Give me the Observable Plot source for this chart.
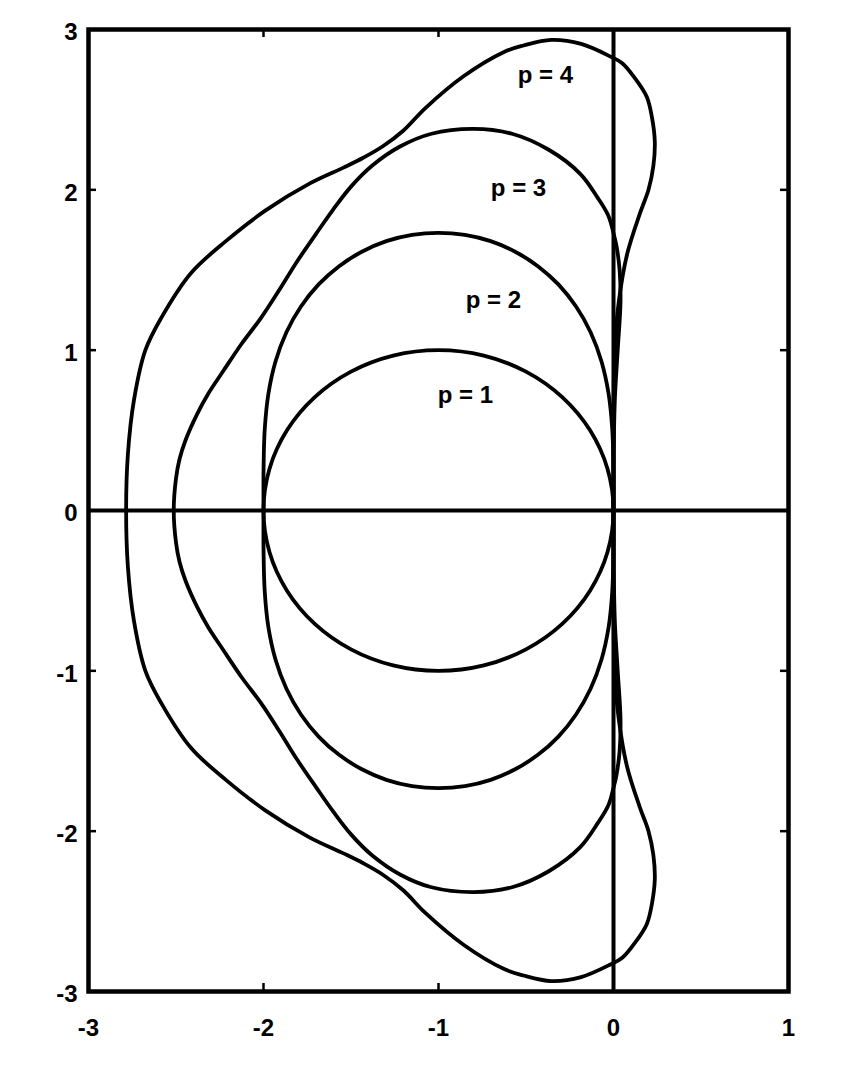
<!DOCTYPE html>
<html>
<head>
<meta charset="utf-8">
<script src="https://cdn.jsdelivr.net/npm/d3@7"></script>
<script src="https://cdn.jsdelivr.net/npm/@observablehq/plot@0.6"></script>
<style>
  html, body { margin: 0; padding: 0; background: #fff; }
  #chart svg { display: block; }
</style>
</head>
<body>
<div id="chart"></div>
<script>
// ---- tick values and labels ----
const xTicks = [-3, -2, -1, 0, 1];
const xTickLabels = ["-3", "-2", "-1", "0", "1"];
const yTicks = [-3, -2, -1, 0, 1, 2, 3];
const yTickLabels = ["-3", "-2", "-1", "0", "1", "2", "3"];

// ---- curve labels ----
const labelText = ["p = 1", "p = 2", "p = 3", "p = 4"];
const labelX = [-0.846, -0.686, -0.543, -0.389];
const labelY = [0.717, 1.31, 2.009, 2.714];

// ---- p = 1 boundary ----
const p1x = [0, -0.034, -0.134, -0.293, -0.5, -0.741, -1, -1.259, -1.5, -1.707, -1.866, -1.966,
  -2, -1.966, -1.866, -1.707, -1.5, -1.259, -1, -0.741, -0.5, -0.293, -0.134, -0.034];
const p1y = [0, 0.259, 0.5, 0.707, 0.866, 0.966, 1, 0.966, 0.866, 0.707, 0.5, 0.259,
  0, -0.259, -0.5, -0.707, -0.866, -0.966, -1, -0.966, -0.866, -0.707, -0.5, -0.259];

// ---- p = 2 boundary ----
const p2x = [0, -0.0004, -0.007, -0.028, -0.069, -0.131, -0.214, -0.315, -0.432, -0.562, -0.702, -0.849,
  -1, -1.151, -1.298, -1.438, -1.568, -1.685, -1.786, -1.869, -1.931, -1.972, -1.993, -1.9996, -2,
  -1.9996, -1.993, -1.972, -1.931, -1.869, -1.786, -1.685, -1.568, -1.438, -1.298, -1.151, -1,
  -0.849, -0.702, -0.562, -0.432, -0.315, -0.214, -0.131, -0.069, -0.028, -0.007, -0.0004];
const p2y = [0, 0.259, 0.504, 0.728, 0.931, 1.112, 1.272, 1.41, 1.524, 1.614, 1.68, 1.719,
  1.732, 1.719, 1.68, 1.614, 1.524, 1.41, 1.272, 1.112, 0.931, 0.728, 0.504, 0.259, 0,
  -0.259, -0.504, -0.728, -0.931, -1.112, -1.272, -1.41, -1.524, -1.614, -1.68, -1.719, -1.732,
  -1.719, -1.68, -1.614, -1.524, -1.41, -1.272, -1.112, -0.931, -0.728, -0.504, -0.259];

// ---- p = 3 boundary ----
const p3x = [0, 0.001, 0.008, 0.024, 0.04, 0.035, 0.017, 0, -0.03, -0.09, -0.19, -0.37, -0.58, -0.8,
  -1.04, -1.22, -1.38, -1.5, -1.6, -1.697, -1.81, -1.91, -2.015, -2.125, -2.23, -2.315, -2.38, -2.445, -2.48, -2.5, -2.513,
  -2.5, -2.48, -2.445, -2.38, -2.315, -2.23, -2.125, -2.015, -1.91, -1.81, -1.697, -1.6, -1.5, -1.38, -1.22,
  -1.04, -0.8, -0.58, -0.37, -0.19, -0.09, -0.03, 0, 0.017, 0.035, 0.04, 0.024, 0.008, 0.001];
const p3y = [0, 0.35, 0.7, 1.0, 1.3, 1.5, 1.65, 1.73, 1.84, 1.95, 2.1, 2.25, 2.35, 2.38,
  2.35, 2.27, 2.15, 2.02, 1.88, 1.73, 1.55, 1.375, 1.2, 1.04, 0.87, 0.73, 0.6, 0.44, 0.32, 0.2, 0,
  -0.2, -0.32, -0.44, -0.6, -0.73, -0.87, -1.04, -1.2, -1.375, -1.55, -1.73, -1.88, -2.02, -2.15, -2.27,
  -2.35, -2.38, -2.35, -2.25, -2.1, -1.95, -1.84, -1.73, -1.65, -1.5, -1.3, -1.0, -0.7, -0.35];

// ---- p = 4 boundary ----
const p4x = [0, 0.001, 0.006, 0.03, 0.078, 0.15, 0.2, 0.228, 0.236, 0.22, 0.19, 0.12, 0.05, -0.015,
  -0.185, -0.355, -0.515, -0.625, -0.855, -1.075, -1.2, -1.32, -1.43, -1.54, -1.735, -1.99, -2.215,
  -2.415, -2.585, -2.675, -2.74, -2.775, -2.785,
  -2.775, -2.74, -2.675, -2.585, -2.415, -2.215, -1.99, -1.735, -1.54, -1.43, -1.32, -1.2, -1.075,
  -0.855, -0.625, -0.515, -0.355, -0.185, -0.015, 0.05, 0.12, 0.19, 0.22, 0.236, 0.228, 0.2, 0.15,
  0.078, 0.03, 0.006, 0.001];
const p4y = [0, 0.5, 1.0, 1.3, 1.6, 1.85, 2.0, 2.15, 2.3, 2.45, 2.58, 2.7, 2.79, 2.83,
  2.91, 2.935, 2.9, 2.86, 2.71, 2.51, 2.37, 2.27, 2.2, 2.14, 2.04, 1.87, 1.68,
  1.48, 1.2, 1.0, 0.69, 0.35, 0,
  -0.35, -0.69, -1.0, -1.2, -1.48, -1.68, -1.87, -2.04, -2.14, -2.2, -2.27, -2.37, -2.51,
  -2.71, -2.86, -2.9, -2.935, -2.91, -2.83, -2.79, -2.7, -2.58, -2.45, -2.3, -2.15, -2.0, -1.85,
  -1.6, -1.3, -1.0, -0.5];

const toRows = (xs, ys) => xs.map((x, i) => ({x, y: ys[i]}));
const curves = [toRows(p1x, p1y), toRows(p2x, p2y), toRows(p3x, p3y), toRows(p4x, p4y)];
const labels = labelText.map((t, i) => ({t, x: labelX[i], y: labelY[i]}));

const W = 856, H = 1072;
const mL = 88, mR = 68, mT = 29, mB = 81;
const plotW = W - mL - mR, plotH = H - mT - mB;
const tickLen = 8;
const FONT = "'Liberation Sans', Arial, Helvetica, sans-serif";

const chart = Plot.plot({
  width: W,
  height: H,
  marginLeft: mL,
  marginRight: mR,
  marginTop: mT,
  marginBottom: mB,
  style: {fontFamily: FONT, background: "#fff", color: "#000"},
  x: {domain: [-3, 1], axis: null},
  y: {domain: [-3, 3], axis: null},
  marks: [
    // inward ticks on all four sides
    Plot.ruleX(xTicks, {x: d => d, insetTop: plotH - tickLen, stroke: "#000", strokeWidth: 2.5}),
    Plot.ruleX(xTicks, {x: d => d, insetBottom: plotH - tickLen, stroke: "#000", strokeWidth: 2.5}),
    Plot.ruleY(yTicks, {y: d => d, insetRight: plotW - tickLen, stroke: "#000", strokeWidth: 2.5}),
    Plot.ruleY(yTicks, {y: d => d, insetLeft: plotW - tickLen, stroke: "#000", strokeWidth: 2.5}),
    // tick labels
    Plot.text(xTicks, {x: d => d, text: (d, i) => xTickLabels[i], frameAnchor: "bottom", dy: 37,
      lineAnchor: "middle", textAnchor: "middle", fontSize: 24, fontWeight: "bold", fill: "#000"}),
    Plot.text(yTicks, {y: d => d, text: (d, i) => yTickLabels[i], frameAnchor: "left", dx: -11, dy: 3,
      lineAnchor: "middle", textAnchor: "end", fontSize: 24, fontWeight: "bold", fill: "#000"}),
    // zero axes
    Plot.ruleY([0], {stroke: "#000", strokeWidth: 4}),
    Plot.ruleX([0], {stroke: "#000", strokeWidth: 4}),
    // stability boundaries
    ...curves.map(rows => Plot.line(rows, {x: "x", y: "y", curve: "catmull-rom-closed", stroke: "#000", strokeWidth: 3.8, strokeLinejoin: "round"})),
    // curve labels
    Plot.text(labels, {x: "x", y: "y", text: "t", fontSize: 24, fontWeight: "bold", fill: "#000", textAnchor: "middle", lineAnchor: "middle"}),
    Plot.frame({stroke: "#000", strokeWidth: 4.5})
  ]
});
document.getElementById("chart").appendChild(chart);
</script>
</body>
</html>
